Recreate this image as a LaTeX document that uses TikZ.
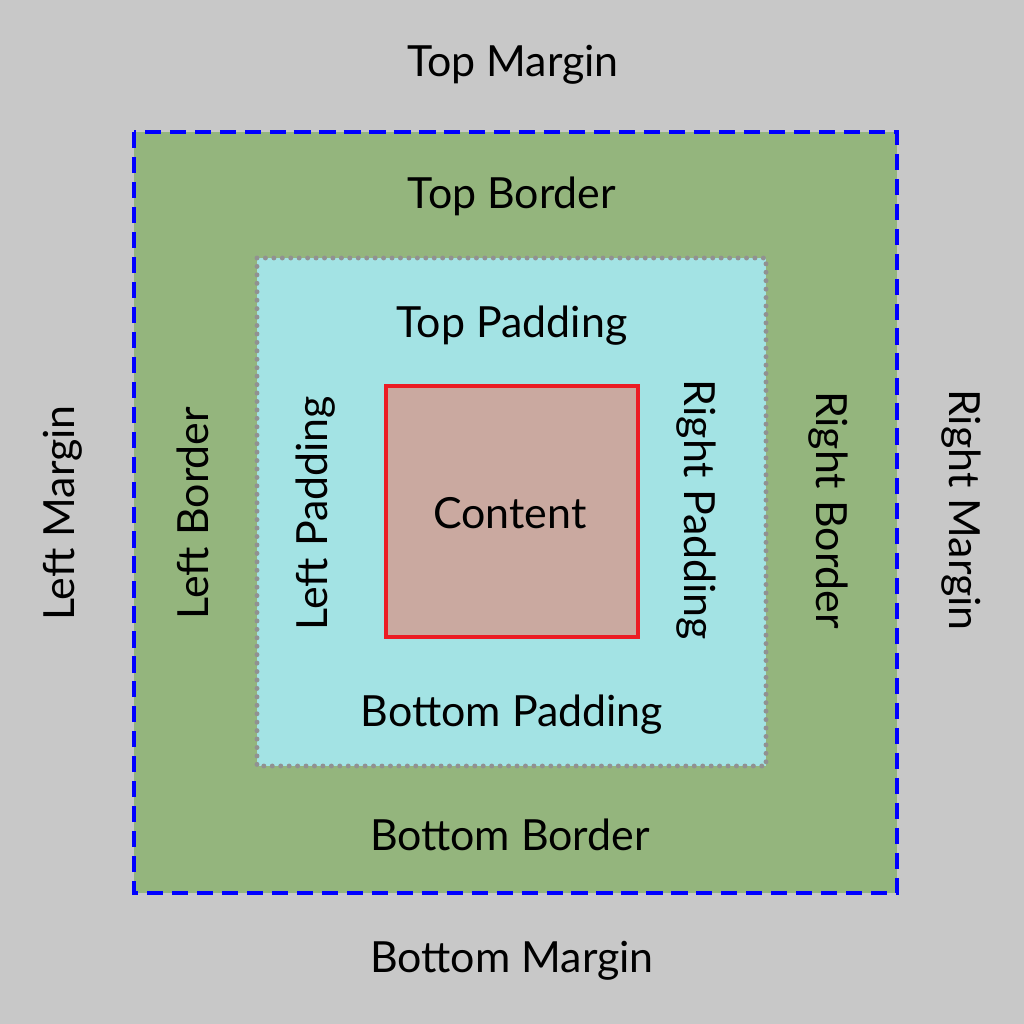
\documentclass[tikz,border=0pt]{standalone}
\usepackage{fontspec}
\setmainfont{Lato}
\usetikzlibrary{positioning}

\definecolor{marginbg}{RGB}{200,200,200}
\definecolor{bordergreen}{RGB}{148,181,125}
\definecolor{paddingcyan}{RGB}{163,227,228}
\definecolor{contentbrown}{RGB}{202,169,160}
\definecolor{contentred}{RGB}{236,28,36}
\definecolor{dotgray}{RGB}{145,145,145}

\begin{document}
\begin{tikzpicture}[x=0.01cm, y=-0.01cm,
    lbl/.style={font=\fontsize{12.2}{15}\selectfont, inner sep=0pt}]

\useasboundingbox (0,0) rectangle (1024,1024);

\coordinate (border1) at (134,132);
\coordinate (border2) at (897,893);
\coordinate (pad1) at (257,258);
\coordinate (pad2) at (766,766);
\coordinate (cont1) at (386,386);
\coordinate (cont2) at (638,637);

\path[fill=marginbg] (0,0) rectangle (1024,1024);
\path[draw=blue, fill=bordergreen, line width=1.3pt, dash pattern=on 4.6pt off 2.5pt] (border1) rectangle (border2);
\path[draw=dotgray, fill=paddingcyan, line width=1.4pt, line cap=round, dash pattern=on 0pt off 2.4pt] (pad1) rectangle (pad2);
\path[draw=contentred, fill=contentbrown, line width=1.2pt] (cont1) rectangle (cont2);

% top and bottom labels
\node[lbl] (topmargin) at (513,65) {Top Margin};
\node[lbl] (topborder) at (512,196) {Top Border};
\node[lbl] (toppadding) at (512,326) {Top Padding};
\node[lbl] (content) at (510,513) {Content};
\node[lbl] (bottompadding) at (512,715) {Bottom Padding};
\node[lbl] (bottomborder) at (510,835) {Bottom Border};
\node[lbl] (bottommargin) at (512,961) {Bottom Margin};

% side labels
\node[lbl, rotate=90] (leftmargin) at (63,513) {Left Margin};
\node[lbl, rotate=90] (leftborder) at (193,513) {Left Border};
\node[lbl, rotate=90] (leftpadding) at (316,513) {Left Padding};
\node[lbl, rotate=-90] (rightpadding) at (696,510) {Right Padding};
\node[lbl, rotate=-90] (rightborder) at (828,510) {Right Border};
\node[lbl, rotate=-90] (rightmargin) at (961,510) {Right Margin};

\end{tikzpicture}
\end{document}
